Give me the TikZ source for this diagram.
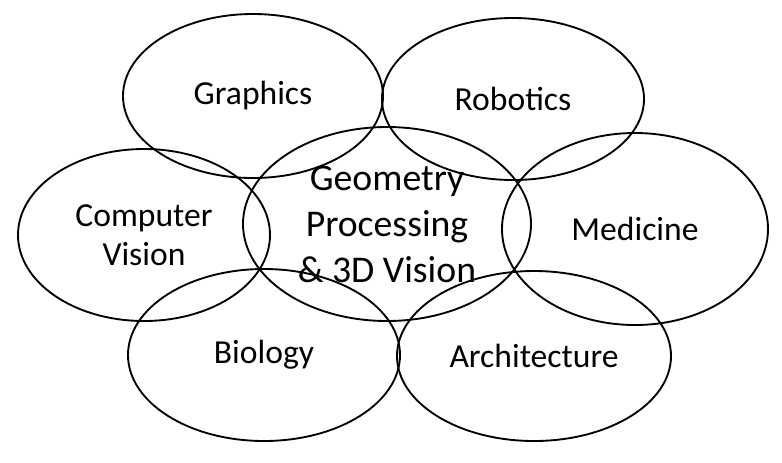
\documentclass[tikz,border=0pt]{standalone}
\usepackage{fontspec}
\setmainfont{Carlito}
\usepackage{tikz}
\usetikzlibrary{shapes.geometric}

\begin{document}
\begin{tikzpicture}[x=0.75pt,y=-0.75pt,
            area/.style={ellipse,draw,line width=1.4pt,inner sep=0pt,
            align=center,font=\fontsize{25.2}{29.5}\selectfont}]

          \useasboundingbox (0,0) rectangle (782,462);

          \node[area,minimum width=195pt,minimum height=123pt]   (GR) at (253, 96) {Graphics};
          \node[area,minimum width=196.5pt,minimum height=121.5pt] (RO) at (513, 99) {Robotics};
          \node[area,minimum width=189pt,minimum height=129pt]   (CV) at (144,235) {Computer\\Vision};
          \node[area,minimum width=216pt,minimum height=145.5pt,
                font=\fontsize{28.3}{34.5}\selectfont]           (GP) at (387,224) {Geometry\\Processing\\\& 3D Vision};
          \node[area,minimum width=199.5pt,minimum height=144pt] (ME) at (635,229) {Medicine};
          \node[area,minimum width=204pt,minimum height=129pt]   (BI) at (264,355) {Biology};
          \node[area,minimum width=205.5pt,minimum height=127.5pt] (AR) at (534,356) {Architecture};
        \end{tikzpicture}
\end{document}
